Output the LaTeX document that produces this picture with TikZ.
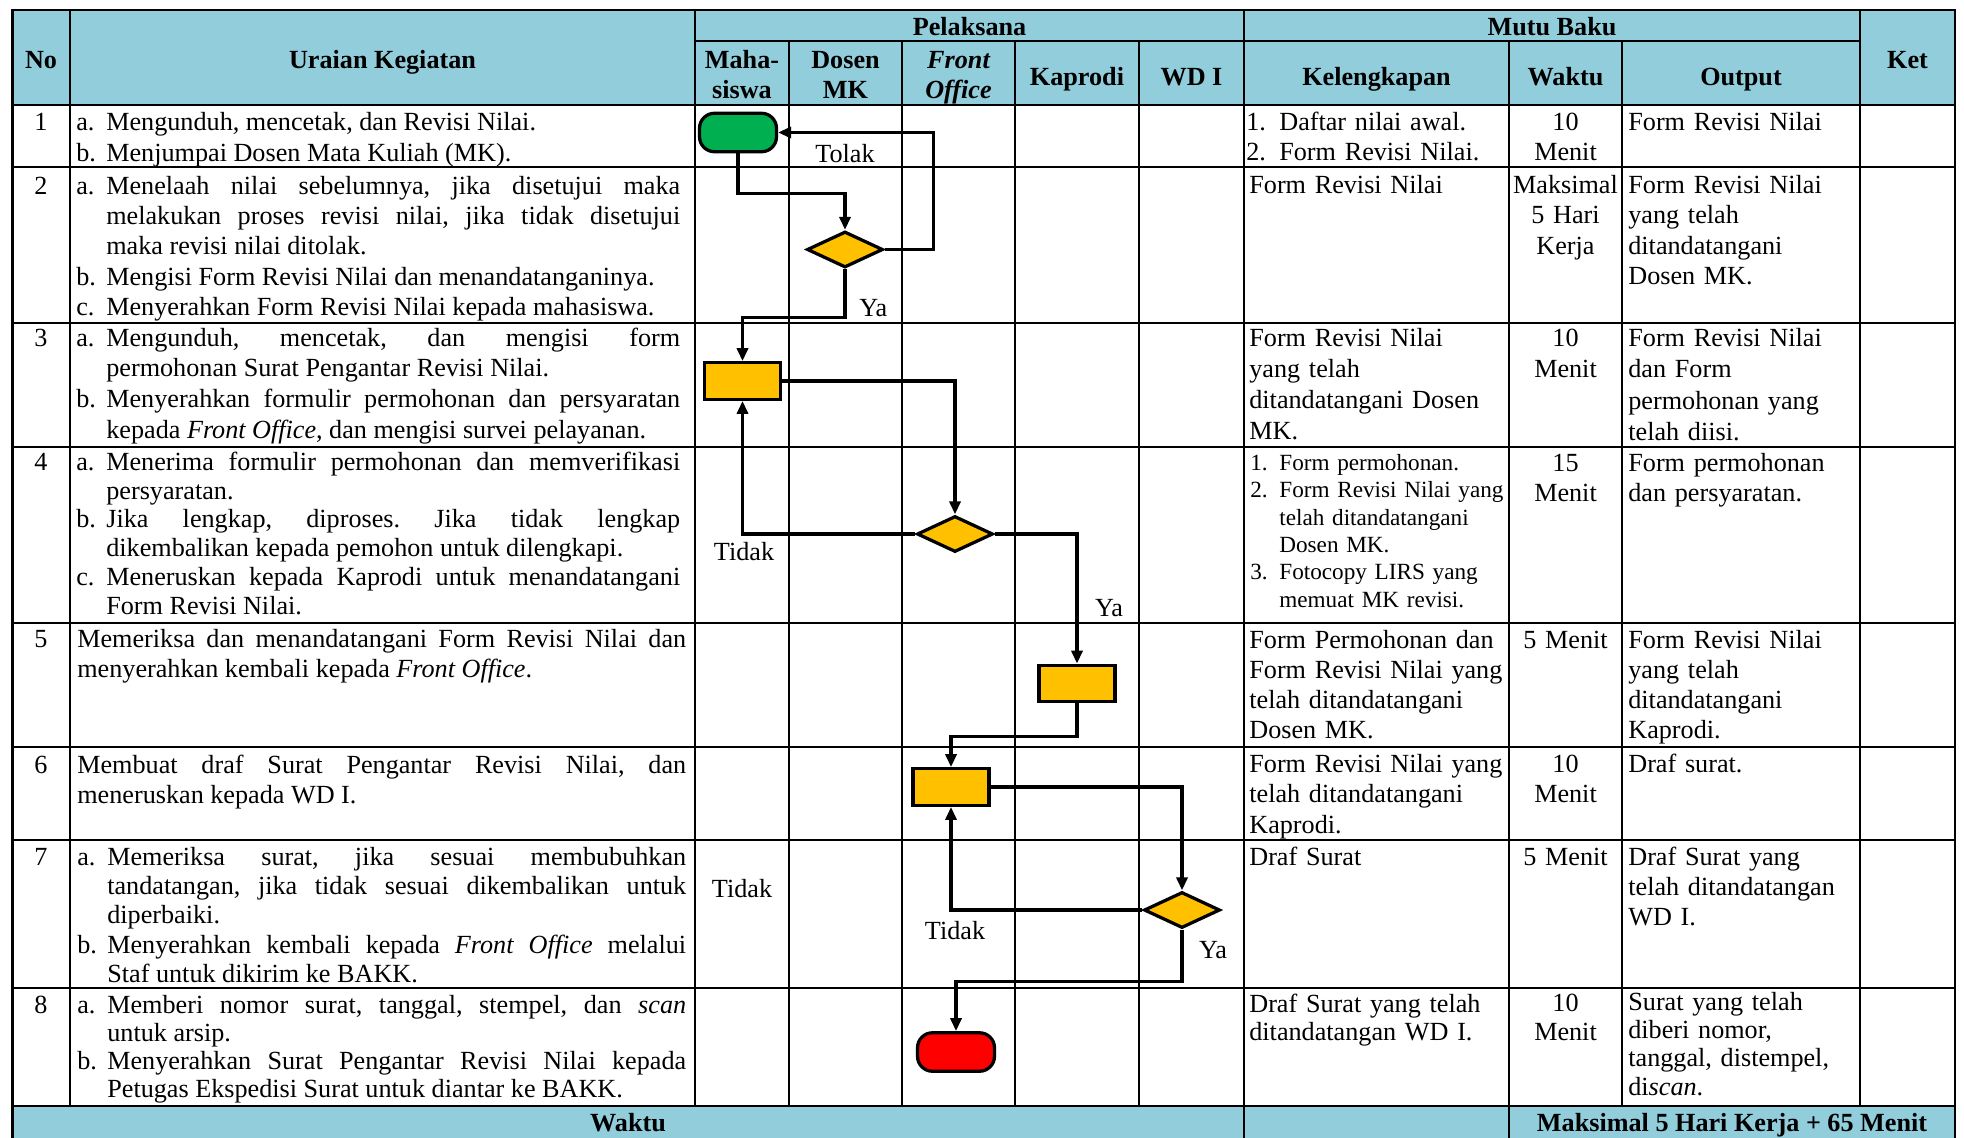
\documentclass[tikz,border=0pt]{standalone}
\usepackage{fontspec}
\setmainfont{Liberation Serif}
\usetikzlibrary{shapes.geometric,arrows.meta}
\definecolor{biru}{HTML}{92CDDC}
\definecolor{hijau}{HTML}{00B050}
\definecolor{kuning}{HTML}{FFC000}
\definecolor{merah}{HTML}{FF0000}
\newcommand{\itm}[2]{\hangindent=0.6cm\hangafter=1\noindent\makebox[0.6cm][l]{#1}#2\par}
\newcommand{\lbl}[2][0.66cm]{\makebox[#1][l]{#2}}
\tolerance=10000
\hbadness=10000
\frenchspacing
\begin{document}
\begin{tikzpicture}[x=0.02cm,y=-0.02cm,
  grs/.style={line width=0.05cm},
  panah/.style={line width=0.065cm,-{Triangle[length=0.26cm,width=0.22cm]}},
  proses/.style={draw,line width=0.065cm,fill=kuning,minimum width=1.52cm,minimum height=0.73cm,inner sep=0pt},
  keputusan/.style={diamond,draw,line width=0.065cm,fill=kuning,minimum width=1.52cm,minimum height=0.72cm,inner sep=0pt},
  terminal/.style={draw,line width=0.065cm,rounded corners=0.3cm,minimum width=1.54cm,minimum height=0.77cm,inner sep=0pt},
  txt/.style={anchor=base west,inner sep=0pt,font=\fontsize{14.9pt}{17.3pt}\selectfont},
  bs/.style={font=\fontsize{14.9pt}{#1}\selectfont},
  ur/.style={txt,text width=12.08cm,align=justify},
  kel/.style={txt,text width=5.2cm,align=left},
  hasil/.style={txt,text width=4.6cm,align=left},
  wkt/.style={txt,anchor=base,text width=2.2cm,align=center},
  nomor/.style={txt,anchor=base},
  ket/.style={txt,anchor=base},
  kepala/.style={anchor=base,inner sep=0pt,font=\bfseries\fontsize{14.9pt}{17.6pt}\selectfont,align=center}]
\useasboundingbox (0,0) rectangle (1964,1137);
%warna header
\fill[biru] (12.5,10) rectangle (1955,105);
\fill[biru] (12.5,1106) rectangle (1955,1145);
%garis tabel
\draw[grs] (12.5,1145) -- (12.5,10) -- (1955,10) -- (1955,1145);
\foreach \y in {105,167,323,447,623,747,840,988,1106}
  \draw[grs] (12.5,\y) -- (1955,\y);
\draw[grs] (695,41) -- (1860,41);
\foreach \x in {70,695,1860}
  \draw[grs] (\x,10) -- (\x,1106);
\foreach \x in {789,902,1015,1139,1622}
  \draw[grs] (\x,41) -- (\x,1106);
\draw[grs] (1244,10) -- (1244,1145);
\draw[grs] (1509,41) -- (1509,1145);
%header
\node[kepala] (hNo) at (41,68) {No};
\node[kepala] (hUraian) at (382.5,68) {Uraian Kegiatan};
\node[kepala] (hPel) at (969.5,35) {Pelaksana};
\node[kepala] (hMutu) at (1552,35) {Mutu Baku};
\node[kepala] (hKet) at (1907.5,68) {Ket};
\node[kepala,text width=2cm] (hMhs) at (742,68) {Maha-\\siswa};
\node[kepala,text width=2cm] (hDosen) at (845.5,68) {Dosen\\MK};
\node[kepala,text width=2cm] (hFO) at (958.5,68) {\itshape Front\\\itshape Office};
\node[kepala] (hKaprodi) at (1077,85) {Kaprodi};
\node[kepala] (hWD) at (1191.5,85) {WD I};
\node[kepala] (hKel) at (1376.5,85) {Kelengkapan};
\node[kepala] (hWaktu) at (1565.5,85) {Waktu};
\node[kepala] (hOut) at (1741,85) {Output};
\node[kepala] (fWaktu) at (628,1131) {Waktu};
\node[kepala] (fTotal) at (1732,1131) {Maksimal 5 Hari Kerja + 65 Menit};
%nomor
\foreach \n/\y in {1/130.5,2/194,3/346,4/470,5/647,6/773,7/865,8/1013}
  \node[nomor] (no\n) at (41,\y) {\n};
%uraian kegiatan
\node[ur,bs=17.4pt] (u1) at (76,130.5) {\itm{a.}{Mengunduh, mencetak, dan Revisi Nilai.}\itm{b.}{Menjumpai Dosen Mata Kuliah (MK).}};
\node[ur,bs=17.3pt] (u2) at (76,194) {\itm{a.}{Menelaah nilai sebelumnya, jika disetujui maka\linebreak melakukan proses revisi nilai, jika tidak disetujui\linebreak maka revisi nilai ditolak.}\itm{b.}{Mengisi Form Revisi Nilai dan menandatanganinya.}\itm{c.}{Menyerahkan Form Revisi Nilai kepada mahasiswa.}};
\node[ur,bs=17.5pt] (u3) at (76,346) {\itm{a.}{Mengunduh, mencetak, dan mengisi form\linebreak permohonan Surat Pengantar Revisi Nilai.}\itm{b.}{Menyerahkan formulir permohonan dan persyaratan\linebreak kepada \emph{Front Office}, dan mengisi survei pelayanan.}};
\node[ur,bs=16.5pt] (u4) at (76,470) {\itm{a.}{Menerima formulir permohonan dan memverifikasi\linebreak persyaratan.}\itm{b.}{Jika lengkap, diproses. Jika tidak lengkap\linebreak dikembalikan kepada pemohon untuk dilengkapi.}\itm{c.}{Meneruskan kepada Kaprodi untuk menandatangani\linebreak Form Revisi Nilai.}};
\node[ur,bs=17.6pt,text width=12.18cm] (u5) at (77,647) {Memeriksa dan menandatangani Form Revisi Nilai dan\linebreak menyerahkan kembali kepada \emph{Front Office}.\par};
\node[ur,bs=17.1pt,text width=12.18cm] (u6) at (77,773) {Membuat draf Surat Pengantar Revisi Nilai, dan\linebreak meneruskan kepada WD I.\par};
\node[ur,bs=16.7pt,text width=12.18cm] (u7) at (77,865) {\itm{a.}{Memeriksa surat, jika sesuai membubuhkan\linebreak tandatangan, jika tidak sesuai dikembalikan untuk\linebreak diperbaiki.}\itm{b.}{Menyerahkan kembali kepada \emph{Front Office} melalui\linebreak Staf untuk dikirim ke BAKK.}};
\node[ur,bs=16.1pt,text width=12.18cm] (u8) at (77,1013) {\itm{a.}{Memberi nomor surat, tanggal, stempel, dan \emph{scan}\linebreak untuk arsip.}\itm{b.}{Menyerahkan Surat Pengantar Revisi Nilai kepada\linebreak Petugas Ekspedisi Surat untuk diantar ke BAKK.}};
%kelengkapan
\node[kel,bs=17.1pt] (k1t) at (1246,130.5) {\lbl{1.}Daftar nilai awal.\\\lbl{2.}Form Revisi Nilai.};
\node[kel] (k2t) at (1249,193) {Form Revisi Nilai};
\node[kel,bs=17.6pt] (k3t) at (1249,346.5) {Form Revisi Nilai\\yang telah\\ditandatangani Dosen\\MK.};
\node[kel,font=\fontsize{13.2pt}{15.65pt}\selectfont] (k4t) at (1250,470) {\lbl[0.58cm]{1.}Form permohonan.\\\lbl[0.58cm]{2.}Form Revisi Nilai yang\\\hspace*{0.58cm}telah ditandatangani\\\hspace*{0.58cm}Dosen MK.\\\lbl[0.58cm]{3.}Fotocopy LIRS yang\\\hspace*{0.58cm}memuat MK revisi.};
\node[kel,bs=17.1pt] (k5t) at (1249,648) {Form Permohonan dan\\Form Revisi Nilai yang\\telah ditandatangani\\Dosen MK.};
\node[kel,bs=17.4pt] (k6t) at (1249,772) {Form Revisi Nilai yang\\telah ditandatangani\\Kaprodi.};
\node[kel] (k7t) at (1249,865) {Draf Surat};
\node[kel,bs=16.2pt] (k8t) at (1249,1012) {Draf Surat yang telah\\ditandatangan WD I.};
%waktu
\node[wkt,bs=17.1pt] (w1) at (1565.5,130.5) {10\\Menit};
\node[wkt,bs=17.4pt] (w2) at (1565.5,193) {Maksimal\\5 Hari\\Kerja};
\node[wkt,bs=17.6pt] (w3) at (1565.5,346.5) {10\\Menit};
\node[wkt,bs=17.1pt] (w4) at (1565.5,471) {15\\Menit};
\node[wkt] (w5) at (1565.5,648) {5 Menit};
\node[wkt,bs=17.6pt] (w6) at (1565.5,772) {10\\Menit};
\node[wkt] (w7) at (1565.5,865) {5 Menit};
\node[wkt,bs=16.8pt] (w8) at (1565.5,1011) {10\\Menit};
%output
\node[hasil] (o1) at (1628,130.5) {Form Revisi Nilai};
\node[hasil,bs=17.4pt] (o2) at (1628,193) {Form Revisi Nilai\\yang telah\\ditandatangani\\Dosen MK.};
\node[hasil,bs=17.8pt] (o3) at (1628,346.5) {Form Revisi Nilai\\dan Form\\permohonan yang\\telah diisi.};
\node[hasil,bs=17.6pt] (o4) at (1628,471) {Form permohonan\\dan persyaratan.};
\node[hasil,bs=17.1pt] (o5) at (1628,648) {Form Revisi Nilai\\yang telah\\ditandatangani\\Kaprodi.};
\node[hasil] (o6) at (1628,772) {Draf surat.};
\node[hasil,bs=17.1pt] (o7) at (1628,865) {Draf Surat yang\\telah ditandatangan\\WD I.};
\node[hasil,bs=16.2pt] (o8) at (1628,1010) {Surat yang telah\\diberi nomor,\\tanggal, distempel,\\di\emph{scan}.};
%bagan alir
\node[terminal,fill=hijau] (mulai) at (738,132.5) {};
\node[keputusan] (cek1) at (845,249.5) {};
\node[proses] (p1) at (742.5,381) {};
\node[keputusan] (cek2) at (955,534) {};
\node[proses] (p2) at (1077,683.5) {};
\node[proses] (p3) at (951,787) {};
\node[keputusan] (cek3) at (1182,910) {};
\node[terminal,fill=merah] (selesai) at (956,1052) {};
\draw[panah] (mulai.south) -- ++(0,40) -| (cek1.north);
\draw[panah] (cek1.east) -- ++(49,0) |- (mulai.east);
\draw[panah] (cek1.south) -- ++(0,48) -| (p1.north);
\draw[panah] (p1.east) -| (cek2.north);
\draw[panah] (cek2.west) -| (p1.south);
\draw[panah] (cek2.east) -| (p2.north);
\draw[panah] (p2.south) -- ++(0,33) -| (p3.north);
\draw[panah] (p3.east) -| (cek3.north);
\draw[panah] (cek3.west) -| (p3.south);
\draw[panah] (cek3.south) -- ++(0,52) -| (selesai.north);
%label
\node[ket] (tolak) at (845,162) {Tolak};
\node[txt] (ya1) at (859,316) {Ya};
\node[ket] (tidak1) at (744,560) {Tidak};
\node[ket] (ya2) at (1109,616) {Ya};
\node[ket] (tidak2) at (742,897) {Tidak};
\node[ket] (tidak3) at (955,939) {Tidak};
\node[ket] (ya3) at (1213,958) {Ya};
\end{tikzpicture}
\end{document}
